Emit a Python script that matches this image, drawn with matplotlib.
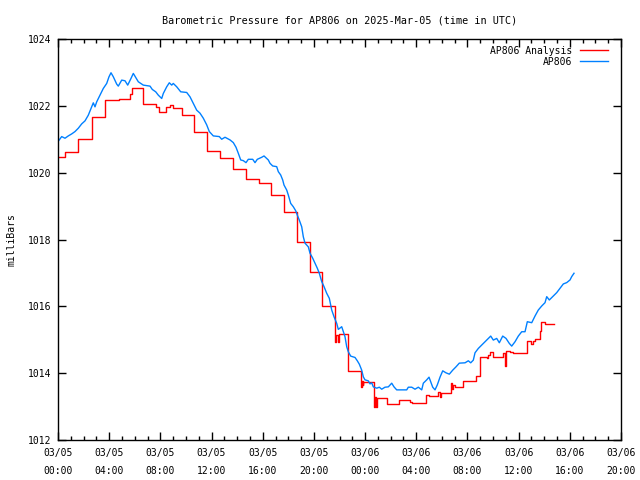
import matplotlib
matplotlib.use("Agg")
import matplotlib.pyplot as plt
from matplotlib.ticker import MultipleLocator, FixedLocator

# hours since 2025-03-05 00:00 UTC
blue_hours = [0.0, 0.289, 0.547, 0.805, 1.071, 1.329, 1.587, 1.852, 2.110, 2.368,
              2.634, 2.759, 2.892, 3.025, 3.283, 3.540, 3.806, 3.986, 4.142, 4.322,
              4.588, 4.713, 4.979, 5.236, 5.448, 5.705, 5.885, 6.073, 6.276, 6.667,
              7.190, 7.370, 7.636, 7.839, 8.105, 8.230, 8.496, 8.699, 8.887, 9.011,
              9.277, 9.590, 10.059, 10.317, 10.575, 10.840, 11.098, 11.356, 11.622, 11.825,
              12.138, 12.607, 12.794, 13.052, 13.443, 13.701, 13.912, 14.092, 14.279, 14.482,
              14.693, 14.873, 15.217, 15.397, 15.577, 15.920, 16.100, 16.436, 16.569, 16.780,
              17.093, 17.218, 17.405, 17.562, 17.663, 17.874, 18.000, 18.187, 18.390, 18.578,
              18.703, 18.859, 19.047, 19.172, 19.305, 19.563, 19.695, 19.906, 20.086, 20.266,
              20.422, 20.610, 20.790, 21.001, 21.204, 21.392, 21.571, 21.782, 21.907, 22.173,
              22.298, 22.431, 22.564, 22.689, 22.876, 23.212, 23.392, 23.548, 23.736, 23.861,
              23.994, 24.252, 24.385, 24.518, 24.643, 24.909, 25.112, 25.299, 25.557, 25.815,
              26.081, 26.260, 26.471, 27.253, 27.378, 27.644, 27.902, 28.160, 28.426, 28.551,
              28.816, 28.996, 29.285, 29.465, 29.645, 29.855, 30.067, 30.324, 30.582, 30.848,
              31.106, 31.364, 31.810, 32.067, 32.255, 32.458, 32.591, 32.849, 33.115, 33.373,
              33.631, 33.818, 34.021, 34.287, 34.490, 34.756, 35.014, 35.272, 35.459, 35.717,
              35.975, 36.241, 36.499, 36.679, 37.023, 37.280, 37.538, 37.804, 38.062, 38.195,
              38.398, 38.711, 38.976, 39.234, 39.492, 39.758, 40.016, 40.149, 40.328]
blue_mb = [1020.93, 1021.08, 1021.03, 1021.10, 1021.16, 1021.23, 1021.33, 1021.46, 1021.55, 1021.72,
           1021.97, 1022.09, 1021.97, 1022.12, 1022.32, 1022.52, 1022.67, 1022.87, 1022.99, 1022.87,
           1022.65, 1022.59, 1022.77, 1022.75, 1022.62, 1022.82, 1022.97, 1022.85, 1022.72, 1022.62,
           1022.59, 1022.49, 1022.42, 1022.32, 1022.22, 1022.37, 1022.57, 1022.69, 1022.62, 1022.67,
           1022.57, 1022.42, 1022.40, 1022.27, 1022.07, 1021.87, 1021.78, 1021.63, 1021.43, 1021.23,
           1021.10, 1021.08, 1021.00, 1021.06, 1020.98, 1020.90, 1020.76, 1020.58, 1020.38, 1020.36,
           1020.30, 1020.40, 1020.40, 1020.30, 1020.40, 1020.46, 1020.50, 1020.38, 1020.28, 1020.20,
           1020.18, 1020.03, 1019.93, 1019.78, 1019.63, 1019.48, 1019.33, 1019.08, 1018.98, 1018.86,
           1018.73, 1018.58, 1018.38, 1018.08, 1017.89, 1017.78, 1017.59, 1017.44, 1017.29, 1017.14,
           1016.99, 1016.74, 1016.59, 1016.39, 1016.24, 1015.89, 1015.69, 1015.49, 1015.31, 1015.39,
           1015.24, 1015.09, 1014.79, 1014.64, 1014.51, 1014.47, 1014.37, 1014.27, 1014.09, 1013.89,
           1013.80, 1013.77, 1013.68, 1013.71, 1013.59, 1013.55, 1013.58, 1013.52, 1013.58, 1013.59,
           1013.70, 1013.59, 1013.50, 1013.50, 1013.58, 1013.58, 1013.52, 1013.58, 1013.50, 1013.70,
           1013.80, 1013.88, 1013.58, 1013.50, 1013.65, 1013.88, 1014.07, 1014.01, 1013.97, 1014.09,
           1014.19, 1014.30, 1014.31, 1014.37, 1014.31, 1014.39, 1014.61, 1014.74, 1014.84, 1014.94,
           1015.04, 1015.11, 1014.99, 1015.04, 1014.91, 1015.11, 1015.04, 1014.89, 1014.81, 1014.94,
           1015.11, 1015.24, 1015.24, 1015.54, 1015.51, 1015.71, 1015.89, 1016.01, 1016.11, 1016.29,
           1016.19, 1016.31, 1016.41, 1016.54, 1016.67, 1016.71, 1016.79, 1016.89, 1016.99]

red_hours = [0.0, 0.586, 1.587, 2.634, 3.673, 4.768, 5.627, 5.745, 6.620, 7.659,
             7.917, 8.441, 8.753, 8.965, 9.730, 10.614, 11.645, 12.685, 13.677, 14.717,
             15.686, 16.671, 17.663, 18.679, 19.695, 20.633, 21.649, 21.751, 21.860, 21.939,
             22.650, 23.666, 23.744, 23.799, 23.861, 24.697, 24.775, 24.854, 24.932, 25.674,
             26.651, 27.472, 27.667, 28.722, 28.996, 29.699, 29.817, 29.895, 30.676, 30.754,
             30.833, 31.028, 31.653, 32.630, 32.959, 33.373, 33.490, 33.607, 33.725, 33.975,
             34.779, 34.912, 34.990, 35.327, 35.561, 36.616, 36.929, 37.124, 37.242, 37.671,
             37.726, 38.023, 38.727]
red_mb = [1020.46, 1020.63, 1021.00, 1021.66, 1022.16, 1022.19, 1022.35, 1022.52, 1022.05, 1021.96,
          1021.82, 1021.96, 1022.01, 1021.93, 1021.72, 1021.21, 1020.64, 1020.44, 1020.10, 1019.80,
          1019.68, 1019.33, 1018.81, 1017.92, 1017.02, 1016.02, 1014.94, 1015.14, 1014.94, 1015.17,
          1014.07, 1013.60, 1013.78, 1013.65, 1013.74, 1013.00, 1013.29, 1013.00, 1013.25, 1013.08,
          1013.20, 1013.15, 1013.12, 1013.35, 1013.32, 1013.45, 1013.30, 1013.40, 1013.71, 1013.53,
          1013.65, 1013.58, 1013.77, 1013.92, 1014.47, 1014.49, 1014.44, 1014.54, 1014.64, 1014.48,
          1014.59, 1014.21, 1014.66, 1014.63, 1014.59, 1014.95, 1014.87, 1014.95, 1015.01, 1015.27,
          1015.52, 1015.47, 1015.47]

x_ticks = [0, 4, 8, 12, 16, 20, 24, 28, 32, 36, 40, 44]
x_labels = ["03/05\n00:00", "03/05\n04:00", "03/05\n08:00", "03/05\n12:00",
            "03/05\n16:00", "03/05\n20:00", "03/06\n00:00", "03/06\n04:00",
            "03/06\n08:00", "03/06\n12:00", "03/06\n16:00", "03/06\n20:00"]
y_ticks = [1012, 1014, 1016, 1018, 1020, 1022, 1024]

plt.rcParams['font.family'] = ['DejaVu Sans Mono']
FS = 7

fig = plt.figure(figsize=(6.4, 4.8), dpi=100)
ax = fig.add_axes([58 / 640, 1 - 440 / 480, (621 - 58) / 640, (440 - 39) / 480])

ax.plot(red_hours, red_mb, color="#ff0000", lw=1.0, drawstyle="steps-post",
        label="AP806 Analysis")
ax.plot(blue_hours, blue_mb, color="#0080ff", lw=1.0, label="AP806")

ax.set_xlim(0, 44)
ax.set_ylim(1012, 1024)
ax.xaxis.set_major_locator(FixedLocator(x_ticks))
ax.set_xticklabels(x_labels, fontsize=FS, linespacing=1.9)
ax.xaxis.set_minor_locator(MultipleLocator(1))
ax.yaxis.set_major_locator(FixedLocator(y_ticks))
ax.set_yticklabels([str(v) for v in y_ticks], fontsize=FS)

ax.tick_params(axis="both", which="major", direction="in", length=6, width=1,
               top=True, right=True, pad=5, colors="black")
ax.tick_params(axis="x", which="minor", direction="in", length=3, width=1,
               top=True, bottom=True)
ax.tick_params(axis="x", which="major", pad=6)
for s in ax.spines.values():
    s.set_linewidth(1.0)
    s.set_color("black")

ax.set_ylabel("milliBars", fontsize=FS, labelpad=8)
ax.set_title("Barometric Pressure for AP806 on 2025-Mar-05 (time in UTC)",
             fontsize=7.3, pad=11)

leg = ax.legend(loc="upper right", bbox_to_anchor=(0.989, 1.0), frameon=False,
                markerfirst=False, fontsize=FS,
                handlelength=2.9, handletextpad=0.8, borderaxespad=0.3,
                labelspacing=0.1)
for t in leg.get_texts():
    t.set_ha("right")

fig.savefig("out.png", dpi=100)
